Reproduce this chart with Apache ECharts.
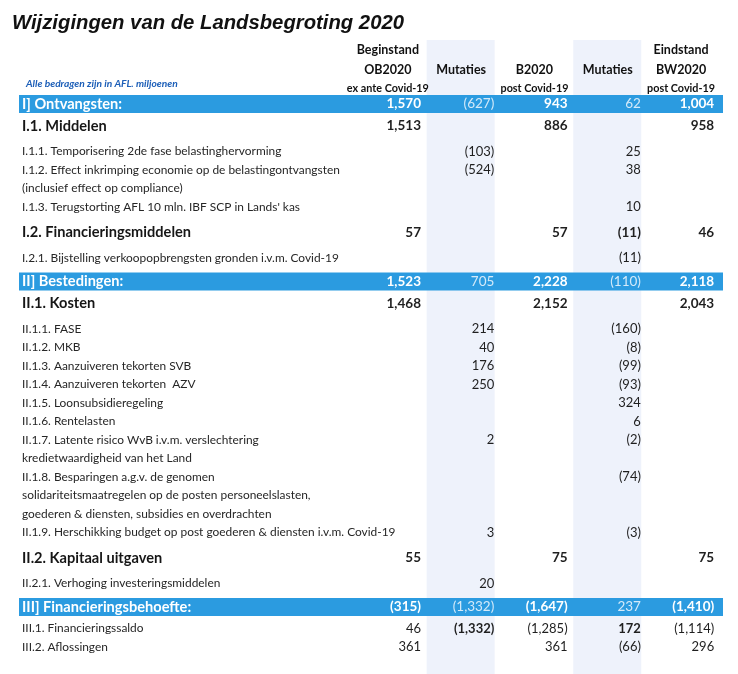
<!DOCTYPE html>
<html><head><meta charset="utf-8">
<script src="https://cdn.jsdelivr.net/npm/echarts@6/dist/echarts.min.js"></script>
<style>html,body{margin:0;padding:0;background:#fff}#c{width:738px;height:674px}</style>
</head><body><div id="c"></div>
<script>
// ---------- DATA ----------
const titleText = 'Wijzigingen van de Landsbegroting 2020';
const noteText = 'Alle bedragen zijn in AFL. miljoenen';
const columns = ['Beginstand', 'Mutaties A', 'B2020', 'Mutaties B', 'Eindstand'];
const headerTop = ['Beginstand', '', '', '', 'Eindstand'];
const headerMid = ['OB2020', 'Mutaties', 'B2020', 'Mutaties', 'BW2020'];
const headerSub = ['ex ante Covid-19', '', 'post Covid-19', '', 'post Covid-19'];
const rowLabels = [
  'I] Ontvangsten:',
  'I.1. Middelen',
  'I.1.1. Temporisering 2de fase belastinghervorming',
  'I.1.2. Effect inkrimping economie op de belastingontvangsten',
  '(inclusief effect op compliance)',
  "I.1.3. Terugstorting AFL 10 mln. IBF SCP in Lands' kas",
  'I.2. Financieringsmiddelen',
  'I.2.1. Bijstelling verkoopopbrengsten gronden i.v.m. Covid-19',
  'II] Bestedingen:',
  'II.1. Kosten',
  'II.1.1. FASE',
  'II.1.2. MKB',
  'II.1.3. Aanzuiveren tekorten SVB',
  'II.1.4. Aanzuiveren tekorten  AZV',
  'II.1.5. Loonsubsidieregeling',
  'II.1.6. Rentelasten',
  'II.1.7. Latente risico WvB i.v.m. verslechtering',
  'kredietwaardigheid van het Land',
  'II.1.8. Besparingen a.g.v. de genomen',
  'solidariteitsmaatregelen op de posten personeelslasten,',
  'goederen & diensten, subsidies en overdrachten',
  'II.1.9. Herschikking budget op post goederen & diensten i.v.m. Covid-19',
  'II.2. Kapitaal uitgaven',
  'II.2.1. Verhoging investeringsmiddelen',
  'III] Financieringsbehoefte:',
  'III.1. Financieringssaldo',
  'III.2. Aflossingen'
];
const rowKinds = ['band','bold','item','item','item','item','bold','item','band','bold',
  'item','item','item','item','item','item','item','item','item','item','item','item',
  'bold','item','band','item','item'];
const beginstand = [1570,1513,null,null,null,null,57,null,1523,1468,null,null,null,null,null,null,null,null,null,null,null,null,55,null,-315,46,361];
const mutatiesA  = [-627,null,-103,-524,null,null,null,null,705,null,214,40,176,250,null,null,2,null,null,null,null,3,null,20,-1332,-1332,null];
const b2020      = [943,886,null,null,null,null,57,null,2228,2152,null,null,null,null,null,null,null,null,null,null,null,null,75,null,-1647,-1285,361];
const mutatiesB  = [62,null,25,38,null,10,-11,-11,-110,null,-160,-8,-99,-93,324,6,-2,null,-74,null,null,-3,null,null,237,172,-66];
const eindstand  = [1004,958,null,null,null,null,46,null,2118,2043,null,null,null,null,null,null,null,null,null,null,null,null,75,null,-1410,-1114,296];
const emphasized = [[25,1],[25,3]]; // bold cells in III.1

// ---------- STYLE / LAYOUT ----------
const FONT = "Lato, 'Open Sans', sans-serif";
const BLUE = '#2b9be0';
const SHADE = '#eef2fb';
const firstRowY = 104;
const gaps = {'band>bold':22,'bold>item':25.5,'item>item':18.5,'item>bold':25.5,'item>band':23.5,'band>item':21.5};
const rowY = [];
rowKinds.forEach((k,i)=>{ rowY.push(i===0 ? firstRowY : rowY[i-1] + gaps[rowKinds[i-1]+'>'+k]); });
const headerY = [firstRowY-54, firstRowY-34.5, firstRowY-15];
const labelX = 22, bandLeft = 19, bandRight = 723, numPad = 3.5, bandH = 18;
const shadeTop = 40, shadeBottom = 674;

const seriesCols = [beginstand, mutatiesA, b2020, mutatiesB, eindstand];
function fmt(v){ const s = Math.abs(v).toLocaleString('en-US'); return v < 0 ? '(' + s + ')' : s; }

const cellData = [], cellMeta = [];
seriesCols.forEach((arr,c)=>arr.forEach((v,r)=>{
  if (v === null) return;
  cellData.push([c, rowY[r]]);
  const emph = emphasized.some(e=>e[0]===r && e[1]===c);
  cellMeta.push({text: fmt(v), kind: rowKinds[r], col: c, emph});
}));
const labelData = rowLabels.map((t,r)=>[0,rowY[r]]);
const bandData = rowKinds.map((k,r)=>k==='band' ? [0,rowY[r]] : null).filter(Boolean);
const shadeData = [[1, shadeTop, shadeBottom],[3, shadeTop, shadeBottom]];
const headerData = [], headerMeta = [];
[headerTop, headerMid, headerSub].forEach((line,li)=>line.forEach((t,c)=>{
  if (!t) return; headerData.push([c, headerY[li]]); headerMeta.push({text:t, small: li===2});
}));

const chart = echarts.init(document.getElementById('c'), null, {renderer:'canvas'});
chart.setOption({
  animation:false,
  backgroundColor:'#fff',
  title:[
    {text:titleText, left:7, top:8, textStyle:{fontFamily:"'Liberation Sans', Arial, sans-serif", fontSize:20.3, fontWeight:'bold', fontStyle:'italic', color:'#111'}},
    {text:noteText, left:21, top:74, textStyle:{fontFamily:FONT, fontSize:10.2, fontWeight:'bold', fontStyle:'italic', color:'#1d5fb8'}}
  ],
  grid:{left:351.2, width:366.5, top:0, bottom:0, containLabel:false},
  xAxis:{type:'category', data:columns, show:false},
  yAxis:{type:'value', inverse:true, min:0, max:674, show:false},
  series:[
    {type:'custom', name:'shade', data:shadeData, z:1, clip:false,
     renderItem:(p,api)=>{ const a=api.coord([api.value(0),api.value(1)]), b=api.coord([api.value(0),api.value(2)]);
       return {type:'rect', shape:{x:a[0]-34.5, y:a[1], width:68, height:b[1]-a[1]}, style:{fill:SHADE}}; }},
    {type:'custom', name:'bands', data:bandData, z:2, clip:false,
     renderItem:(p,api)=>{ const a=api.coord([0,api.value(1)]);
       return {type:'rect', shape:{x:bandLeft, y:a[1]-bandH/2, width:bandRight-bandLeft, height:bandH}, style:{fill:BLUE}}; }},
    {type:'custom', name:'header', data:headerData, z:3, clip:false,
     renderItem:(p,api)=>{ const m=headerMeta[p.dataIndex]; const a=api.coord([api.value(0),api.value(1)]);
       return {type:'text', style:{text:m.text, x:a[0], y:a[1], align:'center', verticalAlign:'middle', fontFamily:FONT, fontSize:m.small?10.8:12.5, fontWeight:'bold', fill:'#111'}}; }},
    {type:'custom', name:'labels', data:labelData, z:3, clip:false,
     renderItem:(p,api)=>{ const k=rowKinds[p.dataIndex]; const a=api.coord([0,api.value(1)]);
       return {type:'text', style:{text:rowLabels[p.dataIndex], x:labelX, y:a[1], align:'left', verticalAlign:'middle', fontFamily:FONT,
         fontSize: k==='item'?11.9:14.6, fontWeight: k==='item'?'normal':'bold', fill: k==='band'?'#fff':(k==='item'?'#262626':'#161616')}}; }},
    {type:'custom', name:'cells', data:cellData, z:3, clip:false,
     renderItem:(p,api)=>{ const m=cellMeta[p.dataIndex]; const a=api.coord([api.value(0),api.value(1)]); const w=api.size([1,0])[0];
       const isMut = m.col===1 || m.col===3;
       let fill='#1f1f1f', weight='normal', size=13;
       if (m.kind==='band'){ fill = isMut ? '#d4eaf9' : '#fff'; weight = isMut ? 'normal':'bold'; size=13.5; }
       else if (m.kind==='bold'){ weight='bold'; size=13.5; }
       if (m.emph){ weight='bold'; }
       return {type:'text', style:{text:m.text, x:a[0]+w/2-numPad, y:a[1], align:'right', verticalAlign:'middle', fontFamily:FONT, fontSize:size, fontWeight:weight, fill}}; }}
  ]
});
</script></body></html>
